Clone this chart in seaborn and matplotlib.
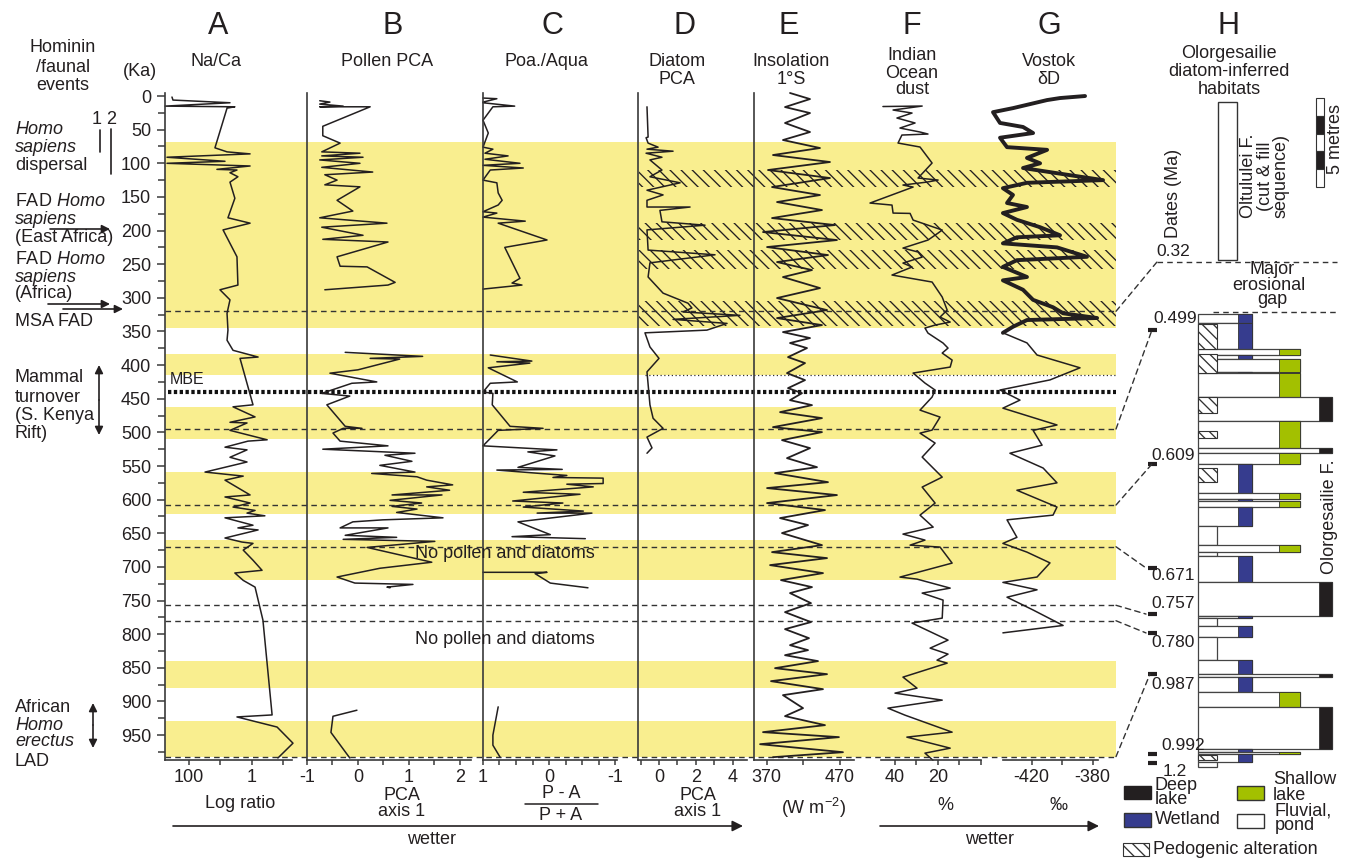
import numpy as np
import pandas as pd
import matplotlib
matplotlib.use("Agg")
import matplotlib.pyplot as plt
import seaborn as sns
from matplotlib.patches import Rectangle, ConnectionPatch
from matplotlib.ticker import LogLocator, NullFormatter

# =========================
# DATA (ages in ka)
# =========================
# A - Na/Ca log ratio
naca_age = [1.5, 6, 10, 15, 16, 18, 77, 83, 86, 91, 97, 100, 104, 109, 110, 114,
            120, 128, 152, 181, 189, 199, 239, 281, 288, 303, 323, 348, 363, 378,
            388, 390, 459, 462, 477, 485, 486, 497, 511, 513, 522, 526, 537, 544,
            559, 565, 571, 593, 596, 605, 611, 616, 620, 624, 627, 638, 642, 645,
            657, 663, 665, 675, 690, 705, 709, 720, 730, 779, 920, 923, 938, 962, 984]
naca_ratio = [347, 323, 5.0, 577, 3.5, 6.2, 15, 6.2, 1.15, 500, 7.2, 500, 1.15, 13, 3.0, 5.0,
              2.8, 5.0, 3.5, 5.8, 1.15, 8.3, 3.0, 2.8, 10.4, 5.0, 6.2, 5.8, 6.2, 4.0,
              0.64, 2.4, 0.93, 4.0, 0.80, 5.0, 1.44, 5.0, 0.33, 1.34, 7.2, 1.44, 5.0, 1.44,
              31, 1.9, 7.2, 1.15, 7.2, 1.15, 4.0, 0.80, 1.44, 0.39, 7.2, 0.93, 2.8, 0.64,
              7.2, 2.1, 0.93, 1.9, 0.93, 0.48, 3.5, 1.9, 0.80, 0.45, 0.23, 3.0, 0.16, 0.05, 0.15]

# B - pollen PCA axis 1 (three separate runs)
pollen_age = [7, 9, 12, 15, 16, 16, 45, 59, 70, 83, 85, 89, 91, 95, 100, 106, 113, 117, 125, 132,
              135, 155, 171, 181, 189, 195, 207, 213, 217, 239, 253, 254, 277, 281, 288,
              381, 387, 390, 391, 407, 412, 425, 427, 442, 446, 459, 491, 494, 494, 501, 513,
              520, 525, 531, 534, 543, 549, 559, 561, 566, 571, 578, 581, 586, 593, 593, 601,
              605, 610, 614, 619, 627, 630, 633, 642, 642, 653, 656, 659, 662, 671, 693, 702,
              715, 724, 726, 730, 731,
              913, 922, 946, 984]
pollen_pca = [-0.75, -0.55, -0.75, -0.29, -0.75, 0.24, -0.69, -0.69, -0.35, -0.71, 0.04, -0.71,
              0.10, -0.75, 0.04, -0.71, 0.29, -0.65, -0.41, -0.65, 0.04, -0.41, -0.10, -0.75,
              0.57, -0.71, 0.10, -0.69, 0.59, -0.41, -0.35, 0.18, 0.73, 0.59, -0.65,
              -0.25, 1.27, 0.24, 0.82, 0.00, -0.55, 0.37, -0.12, -0.71, -0.16, -0.61, -0.25,
              0.08, -0.29, -0.49, -0.35, 0.59, -0.69, 1.12, 0.53, 1.06, 0.43, 1.12, 0.27, 1.16,
              1.35, 1.86, 1.35, 1.80, 0.67, 1.65, 0.63, 1.25, 0.67, 1.16, 0.76, 1.67, 0.49,
              -0.10, -0.35, 0.59, -0.25, 0.76, -0.29, 1.51, 0.18, 1.45, 0.43, -0.41, -0.06,
              1.08, 0.57, 0.63,
              -0.02, -0.49, -0.53, -0.16]
pollen_run = [0] * 35 + [1] * 53 + [2] * 4

# C - Poaceae / Aquatics (P-A)/(P+A)
poa_age = [3, 4, 9, 10, 15, 16, 36, 55, 76, 79, 85, 89, 94, 100, 103, 107, 110, 125, 129, 144,
           155, 162, 172, 174, 180, 186, 189, 214, 225, 271, 278, 281, 287,
           385, 394, 395, 397, 404, 425, 427, 440, 442, 459, 491, 494, 497, 520, 526, 529,
           535, 552, 555, 556, 561, 564, 567, 568, 576, 577, 581, 589, 592, 602, 605, 611,
           617, 620, 620, 633, 652, 655, 658,
           708, 708, 710, 724, 731,
           908, 950, 965, 983]
poa_index = [1.00, 0.79, 1.00, 1.00, 0.52, 0.85, 1.00, 0.92, 1.00, 0.85, 0.97, 0.62, 0.97, 0.44,
             1.00, 0.39, 0.89, 1.00, 0.79, 0.77, 0.71, 0.77, 1.00, 0.79, 1.00, 0.36, 0.77, 0.03,
             0.67, 0.44, 0.56, 0.41, 1.00,
             0.89, 0.26, 0.79, 0.29, 0.92, 0.48, 0.89, 1.00, 0.85, 0.86, 0.59, 0.09, 0.77,
             1.00, -0.12, 0.32, -0.09, 0.47, -0.20, 0.79, 0.14, -0.27, -0.06, -0.82, -0.82,
             -0.27, -0.67, 0.39, -0.47, 0.55, -0.21, 0.39, -0.52, 0.18, -0.65, 0.47, -0.02,
             0.56, -0.55,
             1.00, 0.03, 0.21, -0.02, -0.59,
             0.77, 0.85, 0.85, 0.74]
poa_run = [0] * 33 + [1] * 39 + [2] * 5 + [3] * 4

# D - diatom PCA axis 1
diatom_age = [16, 61, 62, 70, 76, 79, 82, 85, 91, 95, 110, 120, 129, 140, 147, 155, 165, 165,
              170, 187, 192, 199, 229, 236, 248, 269, 293, 308, 315, 321, 326, 332, 338, 348,
              352, 373, 390, 410, 459, 479, 494, 507, 523, 531]
diatom_pca = [-0.65, -0.59, -0.70, -0.59, -0.05, -0.65, 0.76, -0.70, 0.16, -0.49, 0.16, -0.49,
              1.14, -0.65, 0.22, -0.65, -0.65, 1.68, 0.05, 0.16, 2.49, -0.65, -0.59, 3.03,
              -0.49, -0.59, 0.22, 1.57, 1.78, 1.30, 4.38, 0.76, 3.68, 2.59, -0.76, -0.49,
              0.00, -0.65, -0.49, -0.32, 0.22, -0.65, -0.38, -0.65]

# E - insolation 1 deg S (W m-2), turning points
insol_age = [-4.5, 4.5, 16.4, 25.3, 40.1, 53.5, 65.4, 77.3, 87.7, 98.1, 110, 121.9, 135.3,
             147.2, 157.6, 169.5, 181.4, 191.8, 202.2, 214.1, 224.5, 236.4, 246.8, 258.7,
             269.1, 285.5, 300.3, 318.2, 330.1, 340.5, 350.9, 359.8, 367.2, 374.7, 388.1,
             397, 411.9, 422.3, 434.2, 441.7, 452.1, 459.5, 469.9, 478.8, 492.2, 499.6,
             511.5, 523.4, 538.3, 551.7, 560.6, 574, 582.8, 593.2, 605.1, 615.5, 627.4,
             637.8, 649.7, 667.6, 678, 686.9, 697.3, 709.2, 719.6, 730, 738.9, 753.8, 767.2,
             782, 792.5, 805.9, 816.3, 823.7, 831.2, 840, 850.5, 859.4, 869.8, 881.7, 890.6,
             909.9, 921.8, 935.2, 945.6, 953, 963.5, 975.4, 982.8]
insol_wm2 = [402.0, 429.2, 395.2, 429.2, 395.2, 429.2, 392.4, 442.8, 378.8, 456.4, 372.0, 456.4,
             377.5, 442.8, 384.3, 445.5, 377.5, 463.2, 365.2, 465.9, 370.7, 453.7, 384.3, 431.9,
             392.4, 442.8, 384.3, 452.4, 384.3, 445.5, 392.4, 429.2, 402.0, 425.1, 399.3,
             422.4, 397.9, 422.4, 399.3, 418.3, 402.0, 431.9, 388.4, 445.5, 378.8, 445.5,
             391.1, 429.2, 397.9, 438.7, 381.6, 453.7, 370.7, 465.9, 370.7, 449.6, 388.4,
             426.5, 391.1, 445.5, 377.5, 452.4, 374.8, 446.9, 389.7, 431.9, 402.0, 430.5, 395.2,
             430.5, 395.2, 427.8, 402.0, 426.5, 395.2, 440.1, 381.6, 452.4, 376.1, 446.9, 392.4,
             419.7, 395.2, 449.6, 365.2, 468.6, 361.2, 474.1, 378.8]

# F - Indian Ocean dust (%)
dust_age = [15.6, 14.9, 20.8, 25.3, 32.7, 40.1, 47.6, 53.5, 56.5, 58.0, 69.9, 75.8, 99.6, 121.9,
            124.9, 127.9, 132.3, 135.3, 159.1, 162.1, 174.0, 174.5, 184.4, 199.2, 203.7, 214.1,
            226.0, 231.9, 239.4, 248.3, 254.2, 266.1, 276.5, 298.8, 318.2, 328.6, 336.0, 340.5,
            344.9, 352.4, 367.2, 374.7, 382.1, 392.5, 402.9, 411.8, 426.7, 437.1, 447.5, 466.9,
            477.3, 496.6, 501.1, 515.9, 536.7, 566.5, 581.3, 605.1, 623.0, 640.8, 651.2, 660.1,
            667.6, 670.5, 694.3, 715.1, 718.1, 731.5, 738.9, 749.3, 776.1, 783.5, 808.8, 820.7,
            829.6, 838.6, 843.0, 863.8, 880.2, 887.6, 898.0, 909.9, 920.3, 945.6, 953.0, 969.4,
            976.8, 987.3]
dust_pct = [45.5, 27.3, 40.8, 32.0, 39.0, 30.6, 37.6, 28.3, 24.6, 36.7, 38.5, 28.3, 22.7, 29.2,
            19.9, 25.0, 36.2, 31.5, 51.5, 41.3, 40.8, 32.9, 31.5, 18.0, 19.9, 24.6, 36.2, 29.2,
            27.3, 36.2, 32.0, 41.3, 22.7, 18.0, 15.7, 19.0, 14.3, 21.3, 26.0, 24.6, 17.6, 15.3,
            18.0, 13.4, 14.3, 31.5, 26.0, 21.3, 22.7, 28.3, 19.0, 22.7, 28.3, 21.3, 27.3, 18.0,
            27.3, 21.3, 28.3, 22.2, 36.2, 26.0, 32.9, 19.0, 13.4, 37.6, 29.7, 14.3, 27.3, 17.6,
            18.0, 32.0, 15.3, 23.6, 15.3, 20.4, 15.7, 36.2, 29.7, 39.9, 18.0, 43.2, 35.3, 13.4,
            34.4, 14.3, 26.0, 22.3]

# G - Vostok deuterium (permil)
vostok_age = [0, 3, 6, 12, 18, 24, 40, 46, 55, 62, 76, 80, 92, 100, 107, 117, 125, 129, 137,
              147, 159, 165, 174, 184, 195, 207, 210, 219, 225, 239, 244, 254, 269, 274, 288,
              303, 314, 323, 330, 333, 343, 352, 367, 385, 404, 422, 437, 452, 464, 489, 497,
              519, 531, 553, 575, 586, 611, 623, 630, 656, 665, 678, 694, 715, 723, 734, 745,
              764, 787, 798]
vostok_dd = [-385.0, -401.4, -409.9, -421.1, -432.3, -445.4, -440.8, -425.7, -419.1, -440.8,
             -436.2, -409.9, -423.1, -414.5, -425.7, -396.8, -373.2, -423.1, -438.9, -432.3,
             -436.2, -423.1, -438.9, -429.7, -414.5, -401.4, -429.7, -438.9, -403.4, -383.7,
             -429.7, -438.9, -423.1, -438.9, -425.7, -419.1, -406.0, -399.4, -377.1, -423.1,
             -432.3, -438.9, -423.1, -416.5, -388.3, -408.0, -440.8, -427.7, -438.9, -403.4,
             -419.1, -413.2, -434.3, -412.5, -403.4, -429.7, -403.4, -406.0, -436.2, -429.7,
             -438.9, -423.1, -408.0, -416.5, -438.9, -416.5, -436.2, -419.1, -399.4, -438.9]

# shaded intervals (ka)
wet_top = [68, 384, 462, 559, 660, 840, 929]
wet_base = [345, 415, 510, 621, 720, 880, 983]
hatch_top = [110, 189, 229, 305]
hatch_base = [135, 214, 257, 342]
date_ka = [320, 495, 608, 670, 757, 780, 982]

# H - Olorgesailie section (depth in metres below top of the formation)
olg_top = [0.11, 0.62, 2.08, 2.42, 2.64, 3.37, 3.43, 4.78, 6.12, 7.64, 7.92, 8.54, 10.17,
           10.51, 10.62, 10.96, 12.02, 13.09, 13.48, 13.71, 15.17, 17.08, 17.19, 17.64,
           18.26, 19.55, 20.34, 20.51, 21.35, 22.19, 24.55, 24.72, 24.83, 25.28]
olg_base = olg_top[1:] + [25.56]
olg_env = ['wetland', 'wetland', 'shallow', 'wetland', 'shallow', 'wetland', 'shallow', 'deep',
           'shallow', 'deep', 'shallow', 'wetland', 'shallow', 'wetland', 'shallow', 'wetland',
           'fluvial', 'shallow', 'fluvial', 'wetland', 'deep', 'wetland', 'fluvial', 'wetland',
           'fluvial', 'wetland', 'deep', 'wetland', 'shallow', 'deep', 'wetland', 'shallow',
           'wetland', 'fluvial']
pedo_top = [0.67, 2.36, 4.78, 6.69, 8.76, 24.89]
pedo_base = [2.08, 3.43, 5.67, 7.08, 9.55, 25.17]
olt_top, olt_base = -11.80, -2.90
date_ma = ['0.32', '0.499', '0.609', '0.671', '0.757', '0.780', '0.987', '0.992', '1.2']
date_m = [-2.81, 1.01, 8.54, 14.38, 16.97, 18.03, 20.34, 24.83, 25.34]
date_label_m = [-3.37, 0.34, 8.09, 14.8, 16.40, 18.54, 20.90, 24.33, 25.79]
link_m = [-2.81, 1.01, 8.54, 14.38, 16.97, 18.03, 20.34]

# =========================
# STYLE
# =========================
sns.set_theme(style="white")
plt.rcParams['font.family'] = ['Liberation Sans', 'DejaVu Sans']
plt.rcParams['mathtext.fontset'] = 'custom'
plt.rcParams['mathtext.rm'] = 'Liberation Sans'
plt.rcParams['mathtext.it'] = 'Liberation Sans:italic'
plt.rcParams['axes.unicode_minus'] = False
plt.rcParams['hatch.linewidth'] = 0.95

INK = '#231f20'
SPINE = '#3a3a3a'
YEL = '#f9ee8f'
FS = 13
W, H = 1355, 859
TOP, BOT = 93, 760
AGE_LIM = (987, -4.5)

fig = plt.figure(figsize=(W / 100, H / 100), dpi=100)


def rect(x0, y0, x1, y1):
    return [x0 / W, 1 - y1 / H, (x1 - x0) / W, (y1 - y0) / H]


# background: wet intervals, hatched intervals, event lines
bg = fig.add_axes(rect(165, TOP, 1116, BOT))
bg.set_xlim(0, 1)
bg.set_ylim(*AGE_LIM)
bg.axis('off')
for t, b in zip(wet_top, wet_base):
    bg.axhspan(t, b, color=YEL, lw=0, zorder=0)
hx0 = (639 - 165) / (1116 - 165)
for t, b in zip(hatch_top, hatch_base):
    bg.axhspan(t, b, xmin=hx0, xmax=1, facecolor='none', edgecolor=INK,
               hatch='\\\\\\', lw=0, zorder=1)
for k in date_ka:
    bg.axhline(k, color='#333333', lw=1.0, ls=(0, (4, 3)), zorder=2)
bg.axhline(440, xmin=0.003, color='#111111', lw=3, ls=(0, (0.8, 0.6)), zorder=2)
bg.axhline(415, xmin=(645 - 165) / 951, color='#333333', lw=0.9, ls=(0, (1, 2)), zorder=2)


def panel(x0, x1, left_line=True):
    ax = fig.add_axes(rect(x0, TOP, x1, BOT))
    ax.set_facecolor('none')
    for s in ['top', 'right']:
        ax.spines[s].set_visible(False)
    ax.spines['left'].set_visible(left_line)
    for s in ['left', 'bottom']:
        ax.spines[s].set_color(SPINE)
        ax.spines[s].set_linewidth(1.2)
    ax.tick_params(axis='x', which='major', bottom=True, direction='out', length=3.8,
                   width=1.1, colors=SPINE, labelcolor=INK, labelsize=FS, pad=3)
    ax.tick_params(axis='y', left=False, labelleft=False)
    return ax


def trace(ax, age, val, run=None, lw=1.1):
    df = pd.DataFrame({'age': age, 'val': val,
                       'run': run if run is not None else [0] * len(age)})
    sns.lineplot(data=df, x='val', y='age', units='run', estimator=None, sort=False,
                 color=INK, lw=lw, ax=ax, legend=False, clip_on=False)
    ax.set_xlabel('')
    ax.set_ylabel('')
    ax.set_ylim(*AGE_LIM)


# A
axA = panel(165, 292)
axA.set_xscale('log')
trace(axA, naca_age, naca_ratio)
axA.set_xlim(578, 0.0537)
axA.set_xticks([100, 10, 1, 0.1])
axA.set_xticklabels(['100', '', '1', ''])
axA.xaxis.set_minor_locator(LogLocator(base=10, subs=np.arange(2, 10)))
axA.xaxis.set_minor_formatter(NullFormatter())
axA.tick_params(axis='x', which='minor', bottom=True, length=2.5, width=0.9, colors=SPINE)
axA.set_yticks(np.arange(0, 951, 50))
axA.set_yticks(np.arange(25, 990, 50), minor=True)
axA.tick_params(axis='y', which='major', left=True, labelleft=True, direction='out',
                length=6, width=1.1, colors=SPINE, labelcolor=INK, labelsize=FS, pad=4)
axA.tick_params(axis='y', which='minor', left=True, direction='out', length=5,
                width=1.1, colors=SPINE)

# B
axB = panel(307, 471)
trace(axB, pollen_age, pollen_pca, pollen_run)
axB.set_xlim(-1, 2.22)
axB.set_xticks(np.arange(-1, 2.01, 0.5))
axB.set_xticklabels(['-1', '', '0', '', '1', '', '2'])

# C
axC = panel(482.6, 617.4)
trace(axC, poa_age, poa_index, poa_run)
axC.set_xlim(1.006, -1.036)
axC.set_xticks(np.arange(-1, 1.01, 0.25))
axC.set_xticklabels(['-1', '', '', '', '0', '', '', '', '1'])

# D
axD = panel(638.3, 747)
trace(axD, diatom_age, diatom_pca)
axD.set_xlim(-1.12, 4.76)
axD.set_xticks(np.arange(-1, 4.1, 1))
axD.set_xticklabels(['', '0', '', '2', '', '4'])

# E
axE = panel(753.5, 853.5)
trace(axE, insol_age, insol_wm2, lw=1.3)
axE.set_xlim(352.3, 488.4)
axE.set_xticks([370, 420, 470])
axE.set_xticklabels(['370', '', '470'])

# F
axF = panel(881, 981, left_line=False)
trace(axF, dust_age, dust_pct)
axF.set_xlim(46.4, 0)
axF.set_xticks([40, 30, 20, 10, 0])
axF.set_xticklabels(['40', '', '20', '', ''])

# G
axG = panel(1002.6, 1098.3, left_line=False)
n_thick = vostok_age.index(352) + 1
trace(axG, vostok_age[:n_thick], vostok_dd[:n_thick], lw=2.8)
trace(axG, vostok_age[n_thick - 1:], vostok_dd[n_thick - 1:], lw=1.1)
axG.set_xlim(-439.1, -376.3)
axG.set_xticks([-420, -400, -380])
axG.set_xticklabels(['-420', '', '-380'])

# H - stratigraphic log
hax = fig.add_axes(rect(1120, TOP, 1355, 770))
hax.set_xlim(1120, 1355)
hax.set_ylim(25.73, -12.30)
hax.axis('off')
right_edge = {'fluvial': 1217, 'wetland': 1252, 'shallow': 1300, 'deep': 1332}
fill_left = {'fluvial': 1198, 'wetland': 1238, 'shallow': 1279, 'deep': 1319}
fill_col = {'fluvial': 'white', 'wetland': '#363c8e', 'shallow': '#a3c000', 'deep': INK}
for t, b, e in zip(olg_top, olg_base, olg_env):
    hax.add_patch(Rectangle((1198, t), right_edge[e] - 1198, b - t, facecolor='white',
                            edgecolor='#444444', lw=0.9))
    if e != 'fluvial':
        hax.add_patch(Rectangle((fill_left[e], t), right_edge[e] - fill_left[e], b - t,
                                facecolor=fill_col[e], edgecolor='#333333', lw=0.6))
for t, b in zip(pedo_top, pedo_base):
    hax.add_patch(Rectangle((1198, t), 19, b - t, facecolor='white', edgecolor='#333333',
                            hatch='\\\\\\', lw=0.8))
hax.add_patch(Rectangle((1218, olt_top), 19, olt_base - olt_top, facecolor='white',
                        edgecolor='#333333', lw=1.0))
for i, c in enumerate(['white', INK, 'white', INK, 'white']):
    hax.add_patch(Rectangle((1316, -12.02 + i), 8, 1, facecolor=c, edgecolor='#333333', lw=0.8))
hax.plot([1157, 1337], [date_m[0], date_m[0]], color='#333333', lw=1.0, ls=(0, (4, 3)))
hax.plot([1213, 1337], [0, 0], color='#333333', lw=1.0, ls=(0, (4, 3)))
for m in date_m[1:]:
    hax.plot([1148, 1157], [m, m], color=INK, lw=3, solid_capstyle='butt')
for lab, m, x in zip(date_ma, date_label_m, [1173, 1175, 1173, 1173, 1173, 1173, 1173, 1183, 1175]):
    hax.text(x, m, lab, ha='center', va='center', fontsize=12.5, color=INK)
for k, m, xe in zip(date_ka, link_m, [1157, 1152, 1152, 1146, 1146, 1146, 1150]):
    con = ConnectionPatch(xyA=(1.0, k), coordsA=bg.get_yaxis_transform(),
                          xyB=(xe, m), coordsB=hax.transData,
                          color='#333333', lw=1.0, ls=(0, (4, 3)))
    fig.add_artist(con)

# =========================
# TEXT / ANNOTATION LAYER (figure pixels)
# =========================
ann = fig.add_axes([0, 0, 1, 1])
ann.set_xlim(0, W)
ann.set_ylim(H, 0)
ann.set_facecolor('none')
ann.axis('off')


def say(x, y, s, size=FS, **kw):
    kw.setdefault('ha', 'center')
    kw.setdefault('va', 'center')
    ann.text(x, y, s, fontsize=size, color=INK, **kw)


def arrow(x0, y0, x1, y1, style='-|>', ms=12):
    ann.annotate('', xy=(x1, y1), xytext=(x0, y0),
                 arrowprops=dict(arrowstyle=style, color=INK, lw=1.2, mutation_scale=ms,
                                 shrinkA=0, shrinkB=0))


# panel letters and titles
for x, s in zip([218, 393, 552, 685, 789, 912, 1049, 1229], 'ABCDEFGH'):
    say(x, 26, s, size=22)
say(216, 62, 'Na/Ca')
say(387, 62, 'Pollen PCA')
say(546, 62, 'Poa./Aqua')
say(677, 62, 'Diatom'); say(677, 79, 'PCA')
say(791, 62, 'Insolation'); say(791, 79, '1°S')
say(912, 55, 'Indian'); say(912, 73, 'Ocean'); say(912, 90, 'dust')
say(1049, 62, 'Vostok'); say(1049, 79, 'δD')
say(1229, 53, 'Olorgesailie'); say(1229, 71, 'diatom-inferred'); say(1229, 89, 'habitats')

# left: hominin / faunal events
say(63, 48, 'Hominin'); say(63, 67, '/faunal'); say(63, 85, 'events')
say(140, 71, '(Ka)')
say(15, 130, 'Homo', ha='left', style='italic')
say(15, 148, 'sapiens', ha='left', style='italic')
say(15, 166, 'dispersal', ha='left')
say(97, 120, '1'); say(111, 120, '2')
ann.plot([100, 100], [130, 152], color=INK, lw=1.2)
ann.plot([111, 111], [129, 174], color=INK, lw=1.2)
say(15, 202, 'FAD $Homo$', ha='left')
say(15, 220, 'sapiens', ha='left', style='italic')
say(15, 237, '(East Africa)', ha='left')
arrow(50, 229, 110, 229)
say(15, 259, 'FAD $Homo$', ha='left')
say(15, 277, 'sapiens', ha='left', style='italic')
say(15, 294, '(Africa)', ha='left')
arrow(48, 304, 110, 304)
arrow(63, 309, 123, 309)
say(15, 321, 'MSA FAD', ha='left')
say(15, 377, 'Mammal', ha='left'); say(15, 397, 'turnover', ha='left')
say(15, 415, '(S. Kenya', ha='left'); say(15, 433, 'Rift)', ha='left')
arrow(99, 400, 99, 365); arrow(99, 400, 99, 435)
say(15, 707, 'African', ha='left')
say(15, 725, 'Homo', ha='left', style='italic')
say(15, 742, 'erectus', ha='left', style='italic')
say(15, 761, 'LAD', ha='left')
arrow(93, 725, 93, 703); arrow(93, 725, 93, 748)
say(170, 380, 'MBE', ha='left', size=11.5)
say(505, 553, 'No pollen and diatoms')
say(505, 640, 'No pollen and diatoms')

# bottom axis titles
say(240, 804, 'Log ratio')
say(402, 796, 'PCA'); say(402, 812, 'axis 1')
say(561, 794, 'P - A'); say(561, 816, 'P + A')
ann.plot([525, 598], [804, 804], color=INK, lw=1.1)
say(698, 796, 'PCA'); say(698, 811, 'axis 1')
say(813, 808, '(W m$^{-2}$)')
say(945, 805, '%')
say(1058, 805, '‰')
arrow(173, 826, 743, 826, ms=16)
arrow(880, 826, 1099, 826, ms=16)
say(432, 839, 'wetter')
say(990, 839, 'wetter')

# H labels
say(1173, 193, 'Dates (Ma)', rotation=90)
say(1265, 176, 'Oltululei F.\n(cut & fill\nsequence)', rotation=90, linespacing=0.95)
say(1336, 139, '5 metres', rotation=90)
say(1272, 270, 'Major'); say(1269, 285, 'erosional'); say(1272, 300, 'gap')
say(1330, 517, 'Olorgesailie F.', rotation=90)

# legend
ann.add_patch(Rectangle((1124, 786), 27, 13, facecolor=INK, edgecolor=INK))
ann.add_patch(Rectangle((1237, 786), 27, 14, facecolor=fill_col['shallow'], edgecolor='#333333'))
ann.add_patch(Rectangle((1124, 813), 27, 14, facecolor=fill_col['wetland'], edgecolor='#333333'))
ann.add_patch(Rectangle((1237, 814), 27, 14, facecolor='white', edgecolor='#333333'))
ann.add_patch(Rectangle((1123, 843), 26, 13, facecolor='white', edgecolor='#333333',
                        hatch='\\\\\\', lw=0.8))
say(1155, 785, 'Deep', ha='left'); say(1155, 800, 'lake', ha='left')
say(1273, 780, 'Shallow', ha='left'); say(1273, 795, 'lake', ha='left')
say(1155, 820, 'Wetland', ha='left')
say(1275, 811, 'Fluvial,', ha='left'); say(1275, 826, 'pond', ha='left')
say(1153, 849, 'Pedogenic alteration', ha='left')

fig.savefig('out.png', dpi=100)
